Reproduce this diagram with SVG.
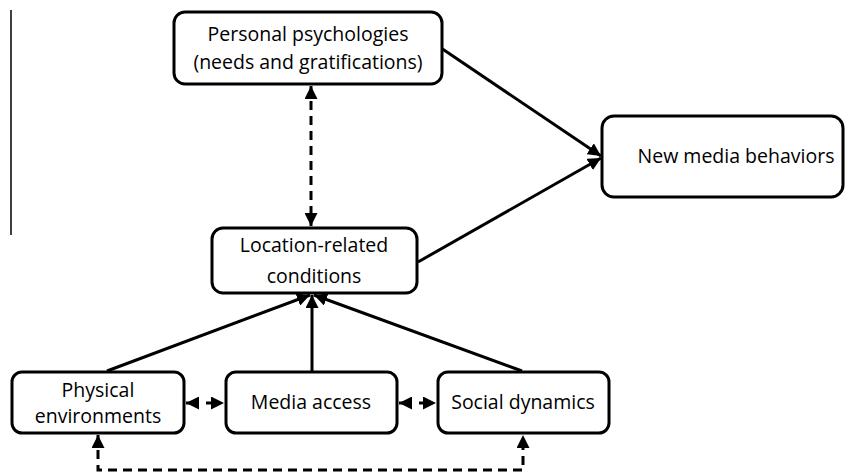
<svg xmlns="http://www.w3.org/2000/svg" width="861" height="474" viewBox="0 0 861 474">
<style>
.box{fill:#fff;stroke:#000;stroke-width:3}
.t{font-family:"Open Sans","Liberation Sans",sans-serif;font-size:19.5px;fill:#000;text-anchor:middle}
.c{fill:none;stroke:#000;stroke-width:3}
.d{stroke-dasharray:9 6}
</style>
<defs>
<marker id="ah" viewBox="0 0 10 10" refX="10" refY="5" markerWidth="13" markerHeight="13" markerUnits="userSpaceOnUse" orient="auto-start-reverse">
<path d="M0,0 L10,5 L0,10 z" fill="#000"/>
</marker>
</defs>
<line x1="11" y1="10" x2="11" y2="235" stroke="#000" stroke-width="1.5"/>
<g id="connectors">
<line class="c" x1="441" y1="48" x2="601" y2="156" marker-end="url(#ah)"/>
<line class="c" x1="418" y1="262" x2="601" y2="158" marker-end="url(#ah)"/>
<line class="c d" x1="311" y1="86" x2="311" y2="226" marker-start="url(#ah)" marker-end="url(#ah)"/>
<line class="c" x1="107" y1="371" x2="310" y2="295" marker-end="url(#ah)"/>
<line class="c" x1="312" y1="371" x2="312" y2="295" marker-end="url(#ah)"/>
<line class="c" x1="522" y1="371" x2="314" y2="295" marker-end="url(#ah)"/>
<line class="c" x1="186" y1="403" x2="224" y2="403" stroke-dasharray="12 8" marker-start="url(#ah)" marker-end="url(#ah)"/>
<line class="c" x1="399" y1="403" x2="436" y2="403" stroke-dasharray="12 8" marker-start="url(#ah)" marker-end="url(#ah)"/>
<path class="c d" d="M98,435 L98,470 L523,470 L523,435" marker-start="url(#ah)" marker-end="url(#ah)"/>
</g>
<g id="personal">
<rect class="box" x="174" y="12" width="268" height="72" rx="11"/>
<text class="t" x="308" y="41">Personal psychologies</text>
<text class="t" x="308" y="69">(needs and gratifications)</text>
</g>
<g id="newmedia">
<rect class="box" x="602" y="116" width="241" height="81" rx="12"/>
<text class="t" x="736" y="163">New media behaviors</text>
</g>
<g id="location">
<rect class="box" x="212" y="228" width="205" height="65" rx="11"/>
<text class="t" x="314" y="252">Location-related</text>
<text class="t" x="314" y="283">conditions</text>
</g>
<g id="physical">
<rect class="box" x="12" y="372" width="172" height="61" rx="10"/>
<text class="t" x="98" y="397">Physical</text>
<text class="t" x="98" y="423">environments</text>
</g>
<g id="media">
<rect class="box" x="226" y="372" width="171" height="61" rx="10"/>
<text class="t" x="311" y="409">Media access</text>
</g>
<g id="social">
<rect class="box" x="438" y="372" width="171" height="61" rx="10"/>
<text class="t" x="523" y="409">Social dynamics</text>
</g>
</svg>
